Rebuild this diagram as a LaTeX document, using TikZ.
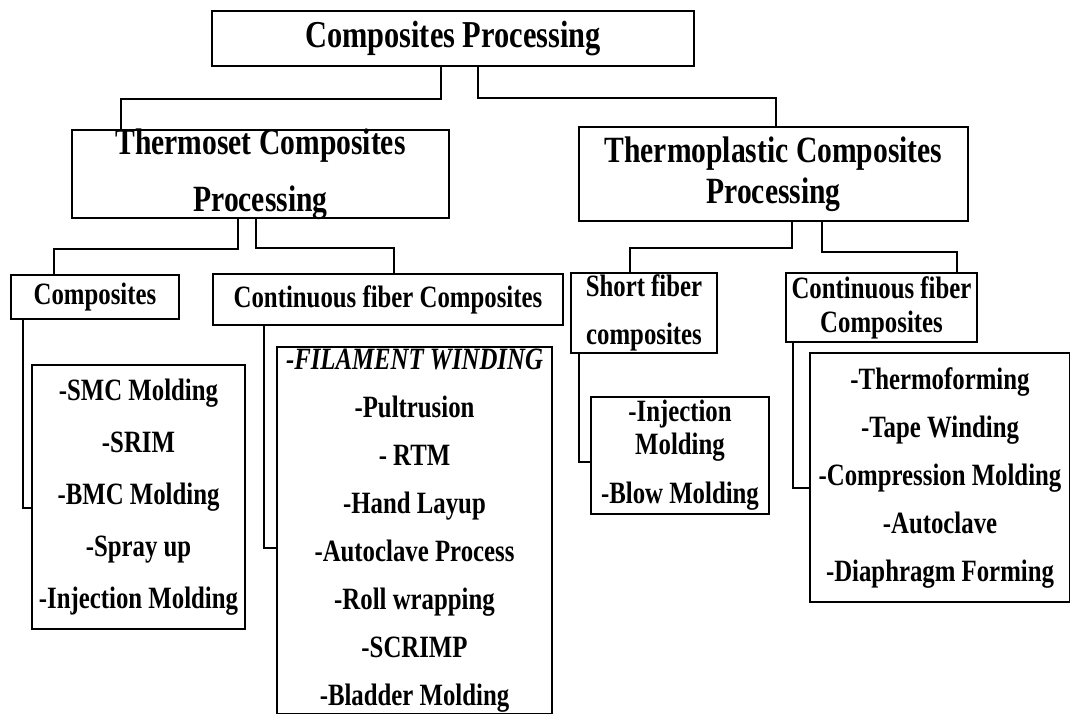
\documentclass[tikz,border=0pt]{standalone}
\usepackage{fontspec}
\setmainfont{Liberation Serif}[FakeStretch=0.8]

\begin{document}
\begin{tikzpicture}[
        x=1pt, y=-1pt,
        box/.style={rectangle, draw, line width=2.2pt, inner sep=0pt},
        head/.style={font=\fontsize{37}{57}\selectfont\bfseries, align=center},
        sub/.style={font=\fontsize{31}{48}\selectfont\bfseries, align=center},
        link/.style={line width=2.2pt}
    ]
    \useasboundingbox (0,0) rectangle (1070,713);

    \node (top) [box, minimum width=482pt, minimum height=55pt, label={[head, font=\fontsize{38}{46}\selectfont\bfseries]center:Composites Processing}] at (453,38.5) {};
    \node (thermoset) [box, minimum width=377pt, minimum height=88pt, label={[head]center:Thermoset Composites\\Processing}] at (260.5,174) {};
    \node (thermoplastic) [box, minimum width=389pt, minimum height=94pt, label={[head, font=\fontsize{37}{41}\selectfont\bfseries]center:Thermoplastic Composites\\Processing}] at (773.5,174) {};

    \node (comp) [box, minimum width=168pt, minimum height=44pt, label={[sub]center:Composites}] at (95,297) {};
    \node (contleft) [box, minimum width=350pt, minimum height=51pt, label={[sub]center:Continuous fiber Composites}] at (388,299.5) {};
    \node (short) [box, minimum width=146pt, minimum height=80pt, label={[sub]center:Short fiber\\composites}] at (644,313) {};
    \node (contright) [box, minimum width=191pt, minimum height=69pt, label={[sub, font=\fontsize{31}{34}\selectfont\bfseries]center:Continuous fiber\\Composites}] at (881.5,307.5) {};

    \node (smclist) [box, minimum width=213pt, minimum height=264pt, label={[sub, font=\fontsize{31}{52}\selectfont\bfseries]center:-SMC Molding\\-SRIM\\-BMC Molding\\-Spray up\\-Injection Molding}] at (138.5,497) {};
    \node (fwlist) [box, minimum width=275pt, minimum height=367pt, label={[sub]center:\textit{-FILAMENT WINDING}\\-Pultrusion\\- RTM\\-Hand Layup\\-Autoclave Process\\-Roll wrapping\\-SCRIMP\\-Bladder Molding}] at (414.5,530.5) {};
    \node (injlist) [box, minimum width=178pt, minimum height=117pt, label={[sub, font=\fontsize{31}{33}\selectfont\bfseries]center:-Injection\\Molding\\[16pt]-Blow Molding}] at (680,455.5) {};
    \node (tflist) [box, minimum width=260pt, minimum height=249pt, label={[sub]center:-Thermoforming\\-Tape Winding\\-Compression Molding\\-Autoclave\\-Diaphragm Forming}] at (940,477.5) {};

    \draw[link] ([xshift=-12pt]top.south) -- ++(0,32) -| ([xshift=-139.5pt]thermoset.north);
    \draw[link] ([xshift=25pt]top.south) -- ++(0,31) -| ([xshift=2.5pt]thermoplastic.north);
    \draw[link] ([xshift=-22.5pt]thermoset.south) -- ++(0,30) -| ([xshift=-41pt]comp.north);
    \draw[link] ([xshift=-4.5pt]thermoset.south) -- ++(0,29) -| ([xshift=6pt]contleft.north);
    \draw[link] ([xshift=18.5pt]thermoplastic.south) -- ++(0,26) -| ([xshift=-14pt]short.north);
    \draw[link] ([xshift=48.5pt]thermoplastic.south) -- ++(0,30) -| ([xshift=75.5pt]contright.north);
    \draw[link] ([xshift=-72pt]comp.south) |- ([yshift=-11pt]smclist.west);
    \draw[link] ([xshift=-124pt]contleft.south) |- ([yshift=-17.5pt]fwlist.west);
    \draw[link] ([xshift=-65pt]short.south) |- ([yshift=-6.5pt]injlist.west);
    \draw[link] ([xshift=-88.5pt]contright.south) |- ([yshift=-10.5pt]tflist.west);
\end{tikzpicture}
\end{document}
